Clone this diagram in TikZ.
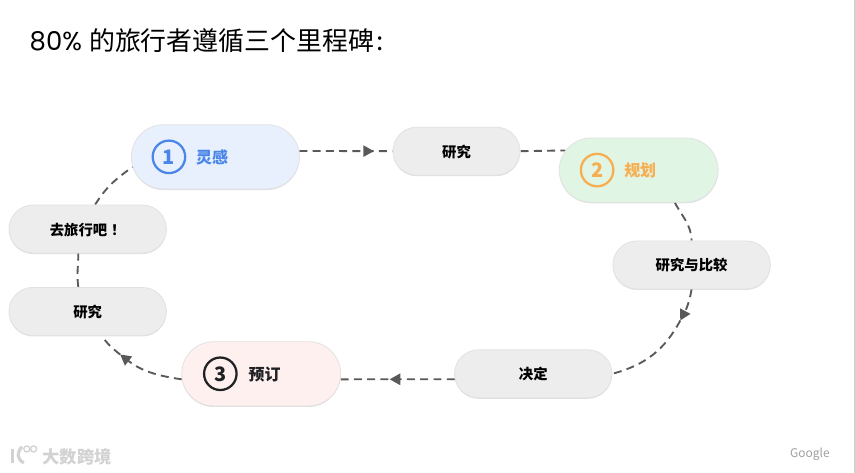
\documentclass[tikz,border=0pt]{standalone}
\usepackage{fontspec}
\setmainfont{Noto Sans CJK SC}
\newfontfamily\titlelatin{Poppins}
\usetikzlibrary{shapes.misc, arrows.meta, positioning, decorations.markings, shadows, backgrounds}
\definecolor{pillgrey}{HTML}{EDEDED}
\definecolor{pilledge}{HTML}{E2E2E2}
\definecolor{flowgrey}{HTML}{595959}
\definecolor{inspirebg}{HTML}{E8F0FE}
\definecolor{inspireink}{HTML}{4A86E8}
\definecolor{planbg}{HTML}{E0F5E3}
\definecolor{planink}{HTML}{F6AE50}
\definecolor{bookbg}{HTML}{FEF0EE}
\definecolor{bookink}{HTML}{202124}
\definecolor{markgrey}{HTML}{D2D2D2}

\begin{document}
\begin{tikzpicture}[
    node distance=1cm and 2cm,
    on grid,
    pill/.style={rounded rectangle, draw=pilledge, line width=0.6pt, drop shadow={shadow xshift=0pt, shadow yshift=-0.8pt, opacity=0.12, fill=black}},
    stagepill/.style={pill, fill=pillgrey, minimum width=4.4cm, minimum height=1.27cm, text height=10.5pt, text depth=1.5pt, font=\fontsize{10.8}{12}\selectfont\bfseries},
    milestone/.style={pill, minimum width=4.44cm, minimum height=1.7cm},
    badge/.style={circle, draw=#1, text=#1, line width=1.7pt, minimum size=0.86cm, inner sep=0pt, font=\fontsize{15}{16}\selectfont\bfseries},
    tag/.style={text=#1, text height=11.5pt, text depth=1.5pt, font=\fontsize{12}{14}\selectfont\bfseries},
    flow/.style={draw=flowgrey, line width=1.4pt, dash pattern=on 6pt off 4pt},
    arr/.style={flow, -{Triangle[length=8pt, width=8.5pt, flowgrey]}},
    midarr/.style={postaction={decorate, decoration={markings, mark=at position #1 with {\arrow{Triangle[length=8pt, width=8.5pt, flowgrey]}}}}},
    logoline/.style={draw=markgrey, line width=2.4pt}
]
    \useasboundingbox (0,0) rectangle (22.65,-12.515);

    \node[anchor=west, inner sep=0pt] (heading) at (0.78,-1.08) {\fontsize{19.5}{22}\selectfont{\titlelatin 80\%}\hspace{1pt} 的旅行者遵循三个里程碑\hspace{1.5pt}:};

    \node[milestone, fill=inspirebg, minimum width=4.68cm] (inspire) at (5.70,-4.15) {};
    \node[stagepill, minimum width=3.6cm, above right=0.15cm and 6.38cm of inspire] (research1) {研究};
    \node[milestone, fill=planbg, below right=0.50cm and 4.82cm of research1] (plan) {};
    \node[stagepill, below right=2.51cm and 1.40cm of plan] (compare) {研究与比较};
    \node[stagepill, below left=2.88cm and 4.19cm of compare] (decide) {决定};
    \node[milestone, fill=bookbg, left=7.20cm of decide] (book) {};
    \node[stagepill, above left=1.65cm and 4.59cm of book] (research2) {研究};
    \node[stagepill, above=2.18cm of research2] (go) {去旅行吧\hspace{3pt}！};

    \node[badge=inspireink, left=1.23cm of inspire] (one) {1};
    \node[tag=inspireink, left=0.09cm of inspire] (inspiretag) {灵感};
    \node[badge=planink, left=1.10cm of plan] (two) {2};
    \node[tag=planink, right=0.04cm of plan] (plantag) {规划};
    \node[badge=bookink, left=1.08cm of book] (three) {3};
    \node[tag=bookink, right=0.09cm of book] (booktag) {预订};

    \coordinate[below left=1.47cm and 0.30cm of compare] (tipright);
    \coordinate[below right=1.14cm and 0.86cm of research2] (tipleft);

    \begin{scope}[on background layer]
        \draw[flow, midarr=0.80] (inspire.4) -- (research1.west);
        \draw[flow] (research1.east) -- (plan.165);
        \draw[flow] (plan.-42) to[out=-62, in=92] (compare.north);
        \draw[arr] (compare.south) to[out=-100, in=62] (tipright);
        \draw[flow] (tipright) to[out=-118, in=15] (decide.east);
        \draw[flow, midarr=0.57] (decide.184) -- (book.-4);
        \draw[arr] (book.184) to[out=172, in=-38] (tipleft);
        \draw[flow] (tipleft) to[out=142, in=-55] (research2.-60);
        \draw[flow] (research2.111) to[out=98, in=-90] (go.-111);
        \draw[flow] (go.73) to[out=58, in=-145] (inspire.187);
    \end{scope}

    \node[text=markgrey, inner sep=0pt, font=\fontsize{13}{14}\selectfont\bfseries] (brand) at (2.04,-12.09) {大数跨境};
    \node[text=gray!75, inner sep=0pt, font=\fontsize{9}{10}\selectfont] (google) at (21.43,-12.01) {Google};

    \draw[logoline] (0.34,-11.88) -- (0.34,-12.25);
    \draw[logoline] (0.58,-11.82) .. controls (0.44,-11.98) and (0.44,-12.14) .. (0.63,-12.25);
    \draw[draw=markgrey, line width=1pt] (0.71,-11.88) circle (0.08);
    \draw[draw=markgrey, line width=1pt] (0.89,-11.88) circle (0.08);

    \fill[gray!35] (22.60,0) rectangle (22.65,-12.515);
\end{tikzpicture}
\end{document}
